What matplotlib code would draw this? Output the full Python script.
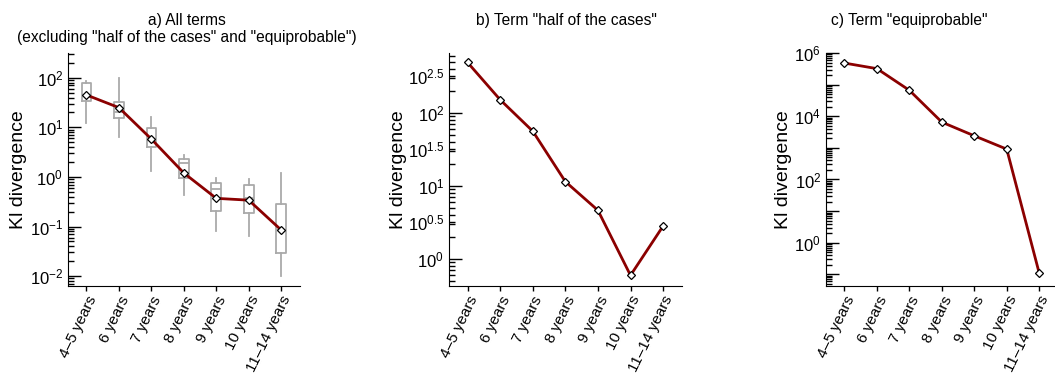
import numpy as np
import matplotlib
matplotlib.use("Agg")
import matplotlib.pyplot as plt
from matplotlib.ticker import FixedLocator, LogLocator, FuncFormatter, NullFormatter

plt.rcParams['font.family'] = ['Liberation Sans', 'DejaVu Sans']
plt.rcParams['mathtext.fontset'] = 'custom'
plt.rcParams['mathtext.rm'] = 'Liberation Sans'
plt.rcParams['mathtext.it'] = 'Liberation Sans:italic'
plt.rcParams['mathtext.default'] = 'regular'

# 数据
age_groups = ["4–5 years", "6 years", "7 years", "8 years", "9 years", "10 years", "11–14 years"]

# a) 所有词（箱线图统计量 + 中位数折线）
a_med = [45, 25, 5.8, 1.2, 0.37, 0.34, 0.085]
a_q1 = [34, 15.6, 4.1, 0.93, 0.21, 0.19, 0.029]
a_q3 = [77, 33, 9.7, 2.3, 0.74, 0.69, 0.29]
a_lo = [12.3, 6.4, 1.3, 0.43, 0.083, 0.063, 0.0102]
a_hi = [86, 97, 16, 2.8, 0.97, 0.9, 1.18]
a_box_med = [45, 20.5, 5.5, 1.9, 0.57, 0.38, 0.085]

# b) "half of the cases"
b_vals = [490, 151, 56, 11.4, 4.6, 0.59, 2.8]

# c) "equiprobable"
c_vals = [4.8e5, 3.2e5, 6.6e4, 6.5e3, 2.4e3, 9.1e2, 0.11]

line_color = "#8b0000"
box_color = "#aaaaaa"

fig = plt.figure(figsize=(10.55, 3.75), dpi=100)
W, H = 1055.0, 375.0


def make_ax(x0, x1, y0, y1):
    return fig.add_axes([x0 / W, 1 - y1 / H, (x1 - x0) / W, (y1 - y0) / H])


def style_ax(ax, ylim, label_x, x0, x1):
    x = np.arange(len(age_groups))
    ax.set_yscale("log")
    ax.set_ylim(*ylim)
    ax.set_xlim(-0.57, len(age_groups) - 1 + 0.58)
    ax.set_xticks(x)
    ax.set_xticklabels(age_groups, rotation=64, fontsize=11,
                       ha="right", va="top", rotation_mode="anchor")
    ax.spines["top"].set_visible(False)
    ax.spines["right"].set_visible(False)
    ax.tick_params(axis="x", direction="out", length=3.5, width=1, pad=2)
    ax.tick_params(axis="y", which="major", direction="in", length=9, width=1, labelsize=12)
    ax.tick_params(axis="y", which="minor", direction="in", length=4, width=1)
    ax.set_ylabel("Kl divergence", fontsize=14)
    # 标签位置（像素 -> 轴坐标）
    ax.yaxis.set_label_coords((label_x - x0) / (x1 - x0), 0.5)


def draw_line(ax, vals):
    x = np.arange(len(vals))
    ax.plot(x, vals, color=line_color, lw=2, marker="D", ms=4.5,
            markerfacecolor="white", markeredgecolor="black", markeredgewidth=0.9, zorder=5)


# a)
ax1 = make_ax(68, 300, 53, 286)
stats = []
for i in range(len(age_groups)):
    stats.append(dict(med=a_box_med[i], q1=a_q1[i], q3=a_q3[i],
                      whislo=a_lo[i], whishi=a_hi[i], fliers=[]))
ax1.bxp(stats, positions=np.arange(len(age_groups)), widths=0.3, showcaps=False,
        showfliers=False,
        boxprops=dict(color=box_color, lw=1.3),
        whiskerprops=dict(color=box_color, lw=1.3),
        medianprops=dict(color=box_color, lw=1.3))
draw_line(ax1, a_med)
style_ax(ax1, (10 ** -2.2, 10 ** 2.5), 27, 68, 300)
ax1.yaxis.set_major_locator(LogLocator(base=10, numticks=20))
ax1.yaxis.set_minor_locator(LogLocator(base=10, subs=np.arange(2, 10), numticks=20))
ax1.yaxis.set_minor_formatter(NullFormatter())
fig.text(187 / W, 1 - 29 / H, 'a) All terms\n(excluding "half of the cases" and "equiprobable")',
         ha="center", va="center", fontsize=11.2, linespacing=1.1)

# b)
ax2 = make_ax(449, 682, 53, 286)
draw_line(ax2, b_vals)
style_ax(ax2, (10 ** -0.375, 10 ** 2.82), 407, 449, 682)
ax2.yaxis.set_major_locator(FixedLocator([1, 10, 100]))
half = [10 ** 0.5, 10 ** 1.5, 10 ** 2.5]
minor = [m * 10 ** d for d in (-1, 0, 1, 2) for m in range(2, 10)]
ax2.yaxis.set_minor_locator(FixedLocator(minor + half))


def fmt_b(v, pos):
    e = np.log10(v)
    if abs(e * 2 - round(e * 2)) < 1e-6:
        if abs(e - round(e)) < 1e-6:
            return r"$10^{%d}$" % round(e)
        return r"$10^{%.1f}$" % e
    return ""


ax2.yaxis.set_major_formatter(FuncFormatter(fmt_b))
ax2.yaxis.set_minor_formatter(FuncFormatter(fmt_b))
ax2.tick_params(axis="y", which="minor", labelsize=12)
fig.text(566 / W, 1 - 21 / H, 'b) Term "half of the cases"', ha="center", va="center", fontsize=11.2)

# c)
ax3 = make_ax(826, 1058, 53, 286)
draw_line(ax3, c_vals)
style_ax(ax3, (10 ** -1.37, 10 ** 6), 792, 826, 1058)
ax3.yaxis.set_major_locator(FixedLocator([10.0 ** k for k in range(-1, 7)]))
ax3.yaxis.set_minor_locator(LogLocator(base=10, subs=np.arange(2, 10), numticks=20))
ax3.yaxis.set_minor_formatter(NullFormatter())
ax3.yaxis.set_major_formatter(FuncFormatter(
    lambda v, pos: r"$10^{%d}$" % round(np.log10(v)) if round(np.log10(v)) % 2 == 0 else ""))
fig.text(909 / W, 1 - 21 / H, 'c) Term "equiprobable"', ha="center", va="center", fontsize=11.2)

fig.savefig("out.png", dpi=100)
